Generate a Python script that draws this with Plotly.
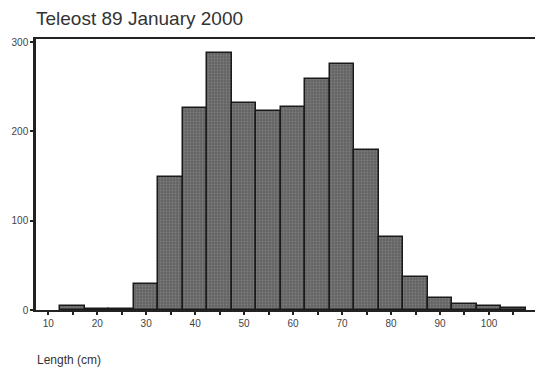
import plotly.graph_objects as go

length_bins = [15, 20, 25, 30, 35, 40, 45, 50, 55, 60, 65, 70, 75, 80, 85, 90, 95, 100, 105]
counts = [4, 1, 1, 29, 149, 226, 288, 232, 223, 227, 259, 275, 179, 82, 37, 14, 7, 4, 2]
x_tick_vals = [10, 20, 30, 40, 50, 60, 70, 80, 90, 100]
y_tick_vals = [0, 100, 200, 300]

fig = go.Figure()
fig.add_trace(go.Bar(
    x=length_bins, y=counts, width=[5] * len(length_bins),
    marker=dict(color="#646464", line=dict(color="#1a1a1a", width=1.5),
                pattern=dict(shape=".", size=3, solidity=0.3, fgcolor="#959595", fillmode="overlay")),
    showlegend=False,
))

fig.update_layout(
    width=535, height=371,
    margin=dict(l=36, r=0, t=39, b=61),
    paper_bgcolor="white", plot_bgcolor="white",
    font=dict(family="Liberation Sans, Arial, sans-serif", color="#444"),
    bargap=0,
)
fig.update_xaxes(
    automargin=False,
    range=[7.5, 109.4], tickvals=x_tick_vals, ticks="outside", ticklen=3, tickwidth=1.5,
    tickcolor="#222", showline=True, linecolor="#222", linewidth=2, mirror=True,
    showgrid=False, zeroline=False, tickfont=dict(size=10, color="#444"),
    minor=dict(ticks="outside", dtick=5, tick0=10, ticklen=3, tickwidth=1.5, tickcolor="#222"),
)
fig.update_yaxes(
    automargin=False,
    range=[0, 303.5], tickvals=y_tick_vals, ticks="outside", ticklen=3, tickwidth=1.5,
    tickcolor="#222", showline=True, linecolor="#222", linewidth=2.5,
    showgrid=False, zeroline=False, tickfont=dict(size=10, color="#444"),
)
fig.add_annotation(text="Teleost 89 January 2000", xref="paper", yref="paper", x=-0.004, y=1.0,
                   yshift=21, xanchor="left", yanchor="middle", showarrow=False,
                   font=dict(size=19, color="#333"))
fig.add_annotation(text="Length (cm)", xref="paper", yref="paper", x=-0.002, y=0,
                   yshift=-50, xanchor="left", yanchor="middle", showarrow=False,
                   font=dict(size=12, color="#333"))

fig.write_html("out.html", config={"displayModeBar": False},
               post_script="document.body.style.margin='0px';")
